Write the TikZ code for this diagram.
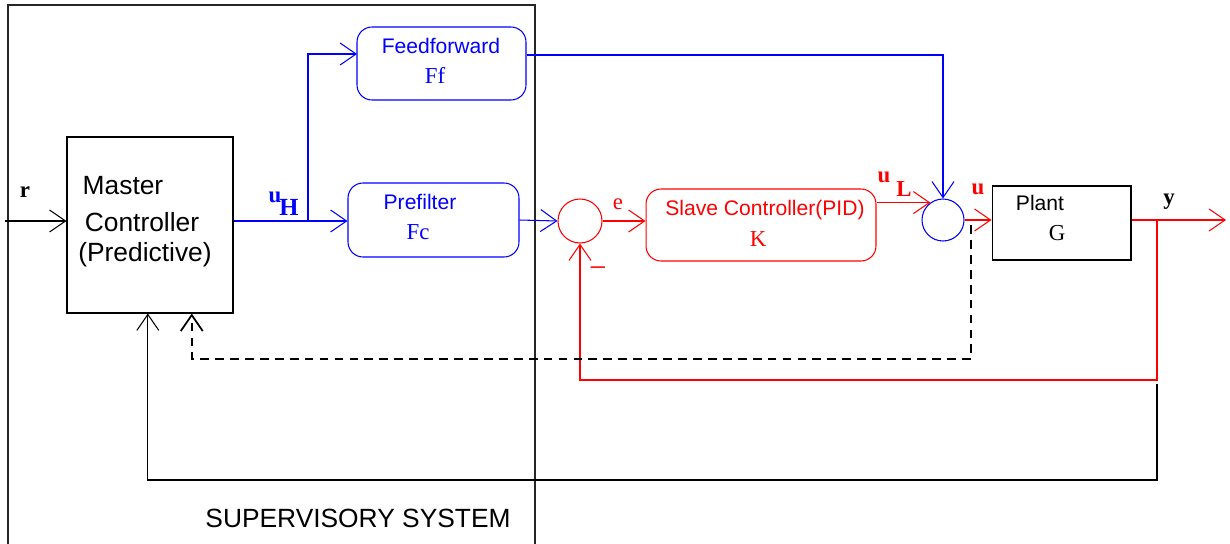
\documentclass[tikz,border=0pt]{standalone}
\usepackage{fontspec}
\setmainfont{Liberation Serif}
\setsansfont{Liberation Sans}
\usetikzlibrary{arrows.meta,calc}
\definecolor{pblue}{RGB}{0,0,255}
\definecolor{pred}{RGB}{255,0,0}
\begin{document}
\begin{tikzpicture}[x=0.02cm,y=-0.02cm,
  arr/.style={-{Straight Barb[length=0.32cm,width=0.44cm]}},
  blk/.style={draw,line width=0.6pt,inner sep=0pt},
  rbox/.style={draw,rounded corners=0.3cm,line width=0.6pt,inner sep=0pt},
  sumc/.style={draw,circle,line width=0.6pt,inner sep=0pt},
  sf/.style={font=\sffamily\fontsize{12}{14}\selectfont},
  sfl/.style={font=\sffamily\fontsize{15}{17}\selectfont},
  rm/.style={font=\rmfamily\fontsize{13}{15}\selectfont},
  bl/.style={font=\rmfamily\bfseries\fontsize{13}{15}\selectfont},
  line width=0.6pt]
\useasboundingbox (0,0) rectangle (1230,544);
% supervisory frame
\draw[black!85] (8,544) -- (8,5) -- (535,5) -- (535,544);
\node[sfl] (sup) at (358,518) {SUPERVISORY SYSTEM};
% blocks
\node[blk,minimum width=3.32cm,minimum height=3.52cm] (master) at (150,225) {};
\node[sfl] (m1) at (123,186) {Master};
\node[sfl] (m2) at (142,222) {Controller};
\node[sfl] (m3) at (145,255) {(Predictive)};
\node[rbox,draw=pblue,minimum width=3.38cm,minimum height=1.46cm] (ff) at (441.5,63.5) {};
\node[sf,pblue] (fft) at (441,46) {Feedforward};
\node[rm,pblue] (ffs) at (435,75) {Ff};
\node[rbox,draw=pblue,minimum width=3.42cm,minimum height=1.48cm] (pre) at (433.5,220) {};
\node[sf,pblue] (pret) at (420,202) {Prefilter};
\node[rm,pblue] (pres) at (418,232) {Fc};
\node[rbox,draw=pred,minimum width=4.6cm,minimum height=1.44cm] (slave) at (761,225) {};
\node[sf,pred] (slt) at (765,210) {Slave Controller(PID)};
\node[rm,pred] (sls) at (758,239) {K};
\node[blk,minimum width=2.78cm,minimum height=1.48cm] (plant) at (1061.5,223) {};
\node[sf] (plt) at (1040,203) {Plant};
\node[rm] (pls) at (1057,233) {G};
\node[sumc,draw=pred,minimum size=0.88cm] (s1) at (580,221) {};
\node[sumc,draw=pblue,minimum size=0.84cm] (s2) at (943,220) {};
% labels
\node[bl] (rl) at (25,192) {r};
\node[bl,pblue] (uh1) at (275,197) {u};
\node[bl,pblue,font=\rmfamily\bfseries\fontsize{14}{16}\selectfont] (uh2) at (289,207) {H};
\node[rm,pred] (el) at (618,204) {e};
\node[font=\sffamily\fontsize{14}{16}\selectfont,pred] (minus) at (598,266) {\_};
\node[bl,pred] (ul1) at (884,177) {u};
\node[bl,pred] (ul2) at (904,189) {L};
\node[bl,pred] (ul) at (978,189) {u};
\node[bl] (yl) at (1169,202) {y};
% coordinates
\coordinate (rin) at (5,221);
\coordinate (uh) at (308,221);
\coordinate (ffin) at (357,54);
\coordinate (yb) at (1157,220);
\coordinate (yout) at (1226,220);
\coordinate (fb) at (1157,380);
\coordinate (ds) at (971,225);
\coordinate (dc) at (971,359);
\coordinate (bs) at (1157,384);
\coordinate (bc) at (1157,480);
\coordinate (md) at ($(master.south west)!0.75!(master.south east)$);
\coordinate (mb) at ($(master.south west)!0.487!(master.south east)$);
% connectors
\draw[arr] (rin) -- (rin -| master.west);
\draw[pblue] (master.east |- uh) -- (uh);
\draw[pblue,arr] (uh) -- (uh -| pre.west);
\draw[pblue,arr] (uh) |- (ffin);
\draw[pblue,arr] (ff.east |- 0,55) -| (s2.north);
\draw[pblue,arr] (pre.east) -- (s1.west);
\draw[pred,arr] (s1.east) -- (s1.east -| slave.west);
\draw[pred,arr] (slave.east |- s2.126) -- (s2.126);
\draw[pred,arr] (s2.east) -- (s2.east -| plant.west);
\draw[pred,arr] (plant.east |- yb) -- (yout);
\draw[pred,arr] (yb) -- (fb) -| (s1.south);
\draw[arr,dashed,line width=1pt,dash pattern=on 5pt off 3.5pt] (ds) -- (dc) -| (md);
\draw[arr] (bs) -- (bc) -| (mb);
\end{tikzpicture}
\end{document}
